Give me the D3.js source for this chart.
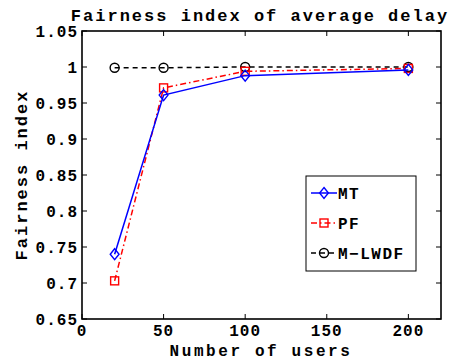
<!DOCTYPE html>
<html>
<head>
<meta charset="utf-8">
<script src="https://cdn.jsdelivr.net/npm/d3@7"></script>
<style>
  body { margin: 0; background: #fff; }
  text { font-family: "Liberation Mono", "DejaVu Sans Mono", monospace; font-weight: bold; }
</style>
</head>
<body>
<div id="chart"></div>
<script>
// Data
const users = [20, 50, 100, 200];
const mtValues = [0.740, 0.961, 0.988, 0.996];
const pfValues = [0.703, 0.971, 0.994, 0.998];
const mlwdfValues = [0.999, 0.999, 1.000, 1.000];
const xTicks = [0, 50, 100, 150, 200];
const yTicks = [0.65, 0.7, 0.75, 0.8, 0.85, 0.9, 0.95, 1, 1.05];

const series = [
  { name: 'MT', values: mtValues, color: '#0000ff', dash: null, marker: 'diamond' },
  { name: 'PF', values: pfValues, color: '#ff0000', dash: '6,3,1.5,3', marker: 'square' },
  { name: 'M\u2212LWDF', values: mlwdfValues, color: '#000000', dash: '5,4', marker: 'circle' }
];

const W = 453, H = 362;
const margin = { top: 31, right: 12, bottom: 43, left: 82 };
const width = W - margin.left - margin.right;
const height = H - margin.top - margin.bottom;

const svg = d3.select('#chart').append('svg')
  .attr('width', W)
  .attr('height', H);

const g = svg.append('g')
  .attr('transform', `translate(${margin.left},${margin.top})`);

const x = d3.scaleLinear().domain([0, 220]).range([0, width]);
const y = d3.scaleLinear().domain([0.65, 1.05]).range([height, 0]);

const fmtY = d => (d === 1 ? '1' : d3.format('.2~f')(d));

// Box and inward ticks on all four sides
g.append('rect')
  .attr('width', width)
  .attr('height', height)
  .attr('fill', 'none')
  .attr('stroke', '#000')
  .attr('stroke-width', 1.6);

const tickLen = 5;
xTicks.forEach((t) => {
  g.append('line').attr('x1', x(t)).attr('x2', x(t))
    .attr('y1', height).attr('y2', height - tickLen)
    .attr('stroke', '#000').attr('stroke-width', 1);
  g.append('line').attr('x1', x(t)).attr('x2', x(t))
    .attr('y1', 0).attr('y2', tickLen)
    .attr('stroke', '#000').attr('stroke-width', 1);
  g.append('text')
    .attr('x', x(t))
    .attr('y', height + 17)
    .attr('text-anchor', 'middle')
    .attr('font-size', 16)
    .attr('letter-spacing', 1)
    .text(t);
});

yTicks.forEach((t) => {
  g.append('line').attr('x1', 0).attr('x2', tickLen)
    .attr('y1', y(t)).attr('y2', y(t))
    .attr('stroke', '#000').attr('stroke-width', 1);
  g.append('line').attr('x1', width).attr('x2', width - tickLen)
    .attr('y1', y(t)).attr('y2', y(t))
    .attr('stroke', '#000').attr('stroke-width', 1);
  g.append('text')
    .attr('x', -4)
    .attr('y', y(t))
    .attr('dy', '0.35em')
    .attr('text-anchor', 'end')
    .attr('font-size', 16)
    .attr('letter-spacing', 1)
    .text(fmtY(t));
});

// Markers
function drawMarker(sel, type, color, cx, cy) {
  if (type === 'diamond') {
    const r = 5.5;
    sel.append('path')
      .attr('d', `M${cx},${cy - r}L${cx + r * 0.8},${cy}L${cx},${cy + r}L${cx - r * 0.8},${cy}Z`)
      .attr('fill', 'none').attr('stroke', color).attr('stroke-width', 1.4);
  } else if (type === 'square') {
    const s = 8;
    sel.append('rect')
      .attr('x', cx - s / 2).attr('y', cy - s / 2)
      .attr('width', s).attr('height', s)
      .attr('fill', 'none').attr('stroke', color).attr('stroke-width', 1.4);
  } else {
    sel.append('circle')
      .attr('cx', cx).attr('cy', cy).attr('r', 4.5)
      .attr('fill', 'none').attr('stroke', color).attr('stroke-width', 1.4);
  }
}

const line = d3.line()
  .x(d => x(d[0]))
  .y(d => y(d[1]));

// Draw series in reverse so MT sits on top
series.slice().reverse().forEach((s) => {
  const pts = users.map((u, i) => [u, s.values[i]]);
  g.append('path')
    .datum(pts)
    .attr('d', line)
    .attr('fill', 'none')
    .attr('stroke', s.color)
    .attr('stroke-width', 1.5)
    .attr('stroke-dasharray', s.dash);
  pts.forEach(p => drawMarker(g, s.marker, s.color, x(p[0]), y(p[1])));
});

// Legend
const legend = svg.append('g').attr('transform', 'translate(306,176)');
legend.append('rect')
  .attr('width', 110).attr('height', 95)
  .attr('fill', '#fff').attr('stroke', '#000').attr('stroke-width', 1);

series.forEach((s, i) => {
  const ly = 17 + i * 30;
  legend.append('line')
    .attr('x1', 5).attr('x2', 31)
    .attr('y1', ly).attr('y2', ly)
    .attr('stroke', s.color).attr('stroke-width', 1.5)
    .attr('stroke-dasharray', s.dash);
  drawMarker(legend, s.marker, s.color, 18, ly);
  legend.append('text')
    .attr('x', 32)
    .attr('y', ly)
    .attr('dy', '0.35em')
    .attr('font-size', 16)
    .attr('letter-spacing', 1.5)
    .text(s.name);
});

// Title and axis labels
svg.append('text')
  .attr('x', 260).attr('y', 21)
  .attr('text-anchor', 'middle')
  .attr('font-size', 17)
  .attr('letter-spacing', 2)
  .text('Fairness index of average delay');

svg.append('text')
  .attr('x', 261).attr('y', 356)
  .attr('text-anchor', 'middle')
  .attr('font-size', 16)
  .attr('letter-spacing', 2.6)
  .text('Number of users');

svg.append('text')
  .attr('transform', 'translate(27,175) rotate(-90)')
  .attr('text-anchor', 'middle')
  .attr('font-size', 17)
  .attr('letter-spacing', 2)
  .text('Fairness index');
</script>
</body>
</html>
